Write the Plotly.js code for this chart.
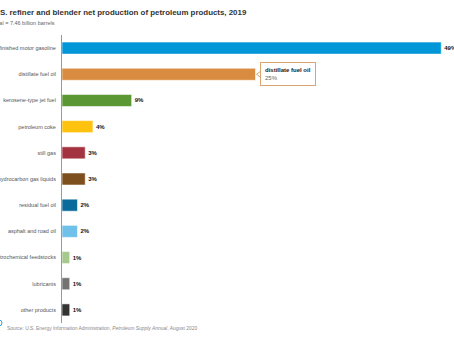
<!DOCTYPE html>
<html>
<head>
<meta charset="utf-8">
<script src="https://cdn.plot.ly/plotly-3.0.1.min.js"></script>
<style>html,body{margin:0;padding:0;background:#fff;}#chart{width:454px;height:341px;}</style>
</head>
<body>
<div id="chart"></div>
<script>
var categories = ["finished motor gasoline","distillate fuel oil","kerosene-type jet fuel","petroleum coke","still gas","hydrocarbon gas liquids","residual fuel oil","asphalt and road oil","petrochemical feedstocks","lubricants","other products"];
var shares = [49, 25, 9, 4, 3, 3, 2, 2, 1, 1, 1];
var shareLabels = ["49%","25%","9%","4%","3%","3%","2%","2%","1%","1%","1%"];
var barColors = ["#0096d7","#d98c40","#5b9733","#ffc20e","#a33340","#7c4f1c","#0b6a9c","#6fc1ea","#a7c98d","#737373","#333333"];
var hoverIndex = 1;

var labelColors = shares.map(function (v, i) { return i === hoverIndex ? "rgba(0,0,0,0)" : "#111"; });

var trace = {
  type: "bar",
  orientation: "h",
  x: shares,
  y: categories,
  text: shareLabels,
  textposition: "outside",
  cliponaxis: false,
  textfont: {family: "Liberation Sans, Arial, sans-serif", size: 6, color: labelColors, weight: "bold"},
  marker: {color: barColors, line: {color: "rgba(255,255,255,0.55)", width: 1}},
  hoverinfo: "none"
};

var font = "Liberation Sans, Arial, sans-serif";
var layout = {
  width: 454, height: 341,
  margin: {l: 62, r: 5, t: 35, b: 18},
  paper_bgcolor: "#fff", plot_bgcolor: "#fff",
  showlegend: false,
  bargap: 0.54,
  font: {family: font},
  xaxis: {visible: false, range: [0, 50], fixedrange: true},
  yaxis: {
    autorange: "reversed",
    showline: true, linecolor: "#999", linewidth: 1,
    showgrid: false, zeroline: false,
    ticks: "", ticklabelstandoff: 4,
    tickfont: {family: font, size: 5.5, color: "#555"}
  },
  annotations: [
    {xref: "paper", yref: "paper", x: 0, y: 1, xanchor: "left", yanchor: "middle",
     xshift: -72, yshift: 23, showarrow: false,
     text: "<b>U.S. refiner and blender net production of petroleum products, 2019</b>",
     font: {family: font, size: 7.9, color: "#333"}},
    {xref: "paper", yref: "paper", x: 0, y: 1, xanchor: "left", yanchor: "middle",
     xshift: -72, yshift: 12, showarrow: false,
     text: "Total = 7.46 billion barrels",
     font: {family: font, size: 5.5, color: "#666"}},
    {xref: "paper", yref: "paper", x: 0, y: 0, xanchor: "left", yanchor: "middle",
     xshift: -57, yshift: -5, showarrow: false,
     text: "Source: U.S. Energy Information Administration, <i>Petroleum Supply Annual</i>, August 2020",
     font: {family: font, size: 4.9, color: "#888"}},
    {xref: "x", yref: "y", x: shares[hoverIndex], y: categories[hoverIndex], xanchor: "left", yanchor: "middle",
     xshift: 4, yshift: 0, showarrow: false, align: "left",
     bgcolor: "#fff", bordercolor: "#d9a470", borderwidth: 1, borderpad: 4,
     text: "<b>" + categories[hoverIndex] + "</b><br><span style='color:#666'>" + shareLabels[hoverIndex] + "</span>",
     font: {family: font, size: 6, color: "#222"}}
  ],
  shapes: [
    {type: "circle", xref: "paper", yref: "paper", xsizemode: "pixel", ysizemode: "pixel",
     xanchor: 0, yanchor: 0, x0: -66, x1: -60, y0: -3, y1: 3,
     line: {color: "#3aa0d8", width: 1}},
    {type: "path", xref: "x", yref: "y", xsizemode: "pixel", ysizemode: "pixel",
     xanchor: shares[hoverIndex], yanchor: hoverIndex,
     path: "M 1,0 L 5,-3 L 5,3 Z",
     fillcolor: "#fff", line: {color: "#d9a470", width: 1}}
  ]
};

Plotly.newPlot("chart", [trace], layout, {staticPlot: true, displayModeBar: false});
</script>
</body>
</html>
